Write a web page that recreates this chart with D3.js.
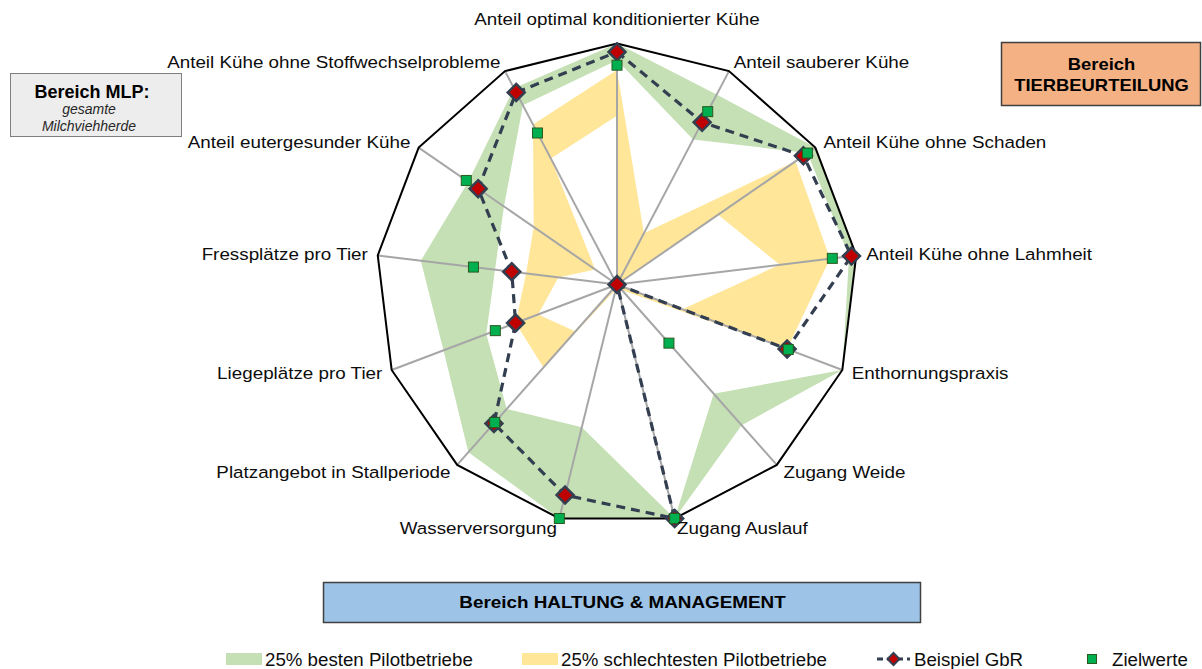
<!DOCTYPE html>
<html>
<head>
<meta charset="utf-8">
<script src="https://cdn.jsdelivr.net/npm/d3@7"></script>
<style>
  body { margin: 0; background: #fff; }
  svg { display: block; font-family: "Liberation Sans", Arial, sans-serif; }
</style>
</head>
<body>
<svg id="chart"></svg>
<script>
// axis labels, clockwise from the top
var axes = [
  "Anteil optimal konditionierter Kühe",
  "Anteil sauberer Kühe",
  "Anteil Kühe ohne Schaden",
  "Anteil Kühe ohne Lahmheit",
  "Enthornungspraxis",
  "Zugang Weide",
  "Zugang Auslauf",
  "Wasserversorgung",
  "Platzangebot in Stallperiode",
  "Liegeplätze pro Tier",
  "Fressplätze pro Tier",
  "Anteil eutergesunder Kühe",
  "Anteil Kühe ohne Stoffwechselprobleme"
];

// band of the 25% best farms (upper and lower edge, share of full scale)
var best25Upper = [1.00, 0.89, 1.00, 1.00, 1.00, 0.78, 1.00, 1.00, 0.93, 0.77, 0.82, 0.75, 0.92];
var best25Lower = [0.93, 0.68, 0.96, 0.97, 1.00, 0.605, 1.00, 0.61, 0.69, 0.58, 0.51, 0.57, 0.84];

// band of the 25% worst farms
var worst25Upper = [0.89, 0.24, 0.90, 0.89, 0.755, 0.03, 0.00, 0.02, 0.46, 0.45, 0.38, 0.42, 0.75];
var worst25Lower = [0.70, 0.00, 0.51, 0.68, 0.29, 0.00, 0.00, 0.00, 0.26, 0.35, 0.245, 0.11, 0.59];

// example farm and target values
var beispielGbR = [0.965, 0.76, 0.94, 0.98, 0.755, 0.00, 1.00, 0.90, 0.77, 0.45, 0.44, 0.70, 0.90];
var zielwerte = [0.91, 0.81, 0.96, 0.90, 0.76, 0.325, 1.00, 1.00, 0.765, 0.54, 0.60, 0.76, 0.71];

var legendItems = ["25% besten Pilotbetriebe", "25% schlechtesten Pilotbetriebe", "Beispiel GbR", "Zielwerte"];

var width = 1202, height = 669;
var cx = 617, cy = 284.5, R = 241;

var svg = d3.select("#chart").attr("width", width).attr("height", height);

var r = d3.scaleLinear().domain([0, 1]).range([0, R]);
var angle = d3.scaleLinear().domain([0, axes.length]).range([0, 2 * Math.PI]);

var radial = d3.lineRadial()
  .angle(function(d, i) { return angle(i); })
  .radius(function(d) { return r(d); })
  .curve(d3.curveLinearClosed);

function pt(v, i) {
  var a = angle(i);
  return [cx + r(v) * Math.sin(a), cy - r(v) * Math.cos(a)];
}

var chart = svg.append("g").attr("transform", "translate(" + cx + "," + cy + ")");

// bands: outer polygon minus inner polygon
chart.append("path")
  .attr("d", radial(best25Upper) + radial(best25Lower))
  .attr("fill", "#c5e0b4")
  .attr("fill-rule", "evenodd");

chart.append("path")
  .attr("d", radial(worst25Upper) + radial(worst25Lower))
  .attr("fill", "#ffe699")
  .attr("fill-rule", "evenodd");

// spokes
chart.selectAll("line.spoke")
  .data(axes)
  .enter()
  .append("line")
  .attr("class", "spoke")
  .attr("x1", 0).attr("y1", 0)
  .attr("x2", function(d, i) { return R * Math.sin(angle(i)); })
  .attr("y2", function(d, i) { return -R * Math.cos(angle(i)); })
  .attr("stroke", "#a6a6a6")
  .attr("stroke-width", 2);

// outer frame
chart.append("path")
  .attr("d", radial(axes.map(function() { return 1; })))
  .attr("fill", "none")
  .attr("stroke", "#000")
  .attr("stroke-width", 2);

// example farm: dashed line with diamonds
chart.append("path")
  .attr("d", radial(beispielGbR))
  .attr("fill", "none")
  .attr("stroke", "#333f50")
  .attr("stroke-width", 3.2)
  .attr("stroke-dasharray", "9,6");

function diamond(s) {
  return "M0," + (-s) + "L" + s + ",0L0," + s + "L" + (-s) + ",0Z";
}

svg.selectAll("path.gbr")
  .data(beispielGbR)
  .enter()
  .append("path")
  .attr("class", "gbr")
  .attr("d", diamond(8.5))
  .attr("transform", function(d, i) { var p = pt(d, i); return "translate(" + p[0] + "," + p[1] + ")"; })
  .attr("fill", "#c00000")
  .attr("stroke", "#333f50")
  .attr("stroke-width", 2.5);

// target values
svg.selectAll("rect.ziel")
  .data(zielwerte)
  .enter()
  .append("rect")
  .attr("class", "ziel")
  .attr("x", function(d, i) { return pt(d, i)[0] - 5; })
  .attr("y", function(d, i) { return pt(d, i)[1] - 5; })
  .attr("width", 10)
  .attr("height", 10)
  .attr("fill", "#00b050")
  .attr("stroke", "#2b5a1e")
  .attr("stroke-width", 1);

// axis labels
svg.selectAll("g.axis-label")
  .data(axes)
  .enter()
  .append("g")
  .attr("class", "axis-label")
  .attr("transform", function(d, i) {
    var a = angle(i);
    var x = cx + (R + 10) * Math.sin(a);
    var y = cy - (R + 10) * Math.cos(a);
    if (Math.abs(Math.sin(a)) < 0.1) y -= 14;
    return "translate(" + x + "," + y + ") scale(1.12,1)";
  })
  .append("text")
  .attr("text-anchor", function(d, i) {
    var s = Math.sin(angle(i));
    return s > 0.1 ? "start" : (s < -0.1 ? "end" : "middle");
  })
  .attr("dy", "0.35em")
  .attr("font-size", "16.8px")
  .attr("fill", "#0d0d0d")
  .text(function(d) { return d; });

// area boxes
var mlp = svg.append("g");
mlp.append("rect")
  .attr("x", 10.5).attr("y", 73.5).attr("width", 171).attr("height", 63)
  .attr("fill", "#ededed").attr("stroke", "#7f7f7f").attr("stroke-width", 1);
mlp.append("text")
  .attr("x", 92).attr("y", 98)
  .attr("text-anchor", "middle").attr("font-weight", "bold").attr("font-size", "18px")
  .text("Bereich MLP:");
mlp.append("text")
  .attr("x", 89).attr("y", 114)
  .attr("text-anchor", "middle").attr("font-style", "italic").attr("font-size", "14px").attr("fill", "#262626")
  .text("gesamte");
mlp.append("text")
  .attr("x", 89).attr("y", 131)
  .attr("text-anchor", "middle").attr("font-style", "italic").attr("font-size", "14px").attr("fill", "#262626")
  .text("Milchviehherde");

var tier = svg.append("g");
tier.append("rect")
  .attr("x", 1001.5).attr("y", 42.5).attr("width", 199).attr("height", 63)
  .attr("fill", "#f4b183").attr("stroke", "#404040").attr("stroke-width", 1.5);
["Bereich", "TIERBEURTEILUNG"].forEach(function(t, k) {
  tier.append("g")
    .attr("transform", "translate(1101.5," + (70 + k * 21) + ") scale(1.15,1)")
    .append("text")
    .attr("text-anchor", "middle").attr("font-weight", "bold").attr("font-size", "16px")
    .text(t);
});

var haltung = svg.append("g");
haltung.append("rect")
  .attr("x", 323.5).attr("y", 582.5).attr("width", 597).attr("height", 40)
  .attr("fill", "#9dc3e6").attr("stroke", "#404040").attr("stroke-width", 1.5);
haltung.append("g")
  .attr("transform", "translate(622.5,608) scale(1.11,1)")
  .append("text")
  .attr("text-anchor", "middle").attr("font-weight", "bold").attr("font-size", "17px")
  .text("Bereich HALTUNG & MANAGEMENT");

// legend
var ly = 659;
var legend = svg.append("g");

legend.append("rect").attr("x", 226).attr("y", ly - 6).attr("width", 36).attr("height", 12).attr("fill", "#c5e0b4");
legend.append("rect").attr("x", 522).attr("y", ly - 6).attr("width", 36).attr("height", 12).attr("fill", "#ffe699");

legend.append("line")
  .attr("x1", 877).attr("x2", 910).attr("y1", ly).attr("y2", ly)
  .attr("stroke", "#333f50").attr("stroke-width", 3).attr("stroke-dasharray", "6,4");
legend.append("path")
  .attr("d", diamond(6))
  .attr("transform", "translate(893.5," + ly + ")")
  .attr("fill", "#c00000").attr("stroke", "#333f50").attr("stroke-width", 2);

legend.append("rect")
  .attr("x", 1087.5).attr("y", ly - 4.5).attr("width", 9).attr("height", 9)
  .attr("fill", "#00b050").attr("stroke", "#2b5a1e").attr("stroke-width", 1);

var textX = [265, 561, 914, 1112];
legend.selectAll("text")
  .data(legendItems)
  .enter()
  .append("text")
  .attr("x", function(d, i) { return textX[i]; })
  .attr("y", ly)
  .attr("dy", "0.35em")
  .attr("font-size", "18.7px")
  .attr("fill", "#0d0d0d")
  .text(function(d) { return d; });
</script>
</body>
</html>
